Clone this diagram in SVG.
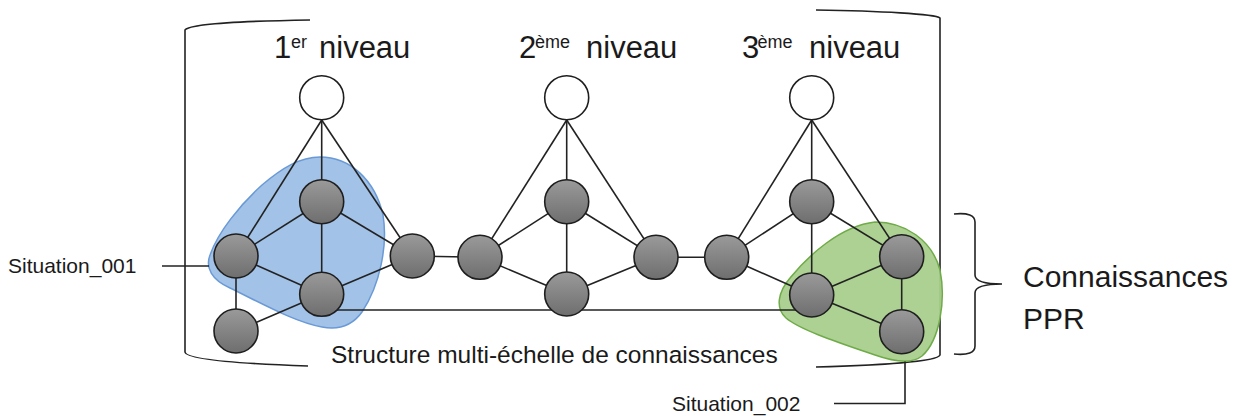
<svg xmlns="http://www.w3.org/2000/svg" width="1239" height="416" viewBox="0 0 1239 416">
<style>
text{font-family:"Liberation Sans",Arial,sans-serif;fill:#1a1a1a}
.t{font-size:31px}
.sup{font-size:18px}
.lbl{font-size:21px}
.big{font-size:30px}
.cap{font-size:24.5px}
.e{stroke:#222;stroke-width:1.6;fill:none}
.br{stroke:#222;stroke-width:1.6;fill:none}
.n{fill:url(#g);stroke:#1e1e1e;stroke-width:1.6}
.w{fill:#fff;stroke:#1e1e1e;stroke-width:1.6}
</style>
<defs>
<linearGradient id="g" x1="0" y1="0" x2="0" y2="1">
<stop offset="0" stop-color="#9a9a9a"/>
<stop offset="1" stop-color="#6e6e6e"/>
</linearGradient>
</defs>
<rect width="1239" height="416" fill="#fff"/>
<g id="brackets">
<path class="br" d="M310,20 C250,21 190,23 185,30 V352 C186,360 250,364 308,366"/>
<path class="br" d="M816,10 C880,11 935,14 940,18 V355 C937,362 880,365 816,367"/>
<path class="br" d="M954,214 Q975,212 975,222 V275 Q975,284 1002,284 Q975,284 975,293 V346 Q975,356 954,354"/>
</g>
<g id="blob-situation-001">
<path d="M320,157 C350,157 375,180 383,215 C388,245 380,285 362,312 C352,326 338,330 322,327 C295,322 265,305 230,288 C212,280 205,268 210,255 C218,232 240,205 262,185 C282,168 300,157 320,157 Z" fill="#9dbfe6" fill-opacity="0.95" stroke="#6a9ad6" stroke-width="1.5"/>
</g>
<g id="blob-situation-002">
<path d="M875,222 C905,222 932,240 940,270 C946,300 940,340 922,356 C912,364 895,362 875,355 C840,343 800,330 786,318 C775,308 778,292 790,278 C808,256 840,226 875,222 Z" fill="#a8cf8c" fill-opacity="0.95" stroke="#6fab48" stroke-width="1.5"/>
</g>
<g id="connectors">
<line class="e" x1="321.7" y1="120" x2="236" y2="256"/>
<line class="e" x1="321.7" y1="120" x2="321.7" y2="201.7"/>
<line class="e" x1="321.7" y1="120" x2="412.3" y2="256"/>
<line class="e" x1="321.7" y1="201.7" x2="236" y2="256"/>
<line class="e" x1="321.7" y1="201.7" x2="321.7" y2="294.3"/>
<line class="e" x1="321.7" y1="201.7" x2="412.3" y2="256"/>
<line class="e" x1="236" y1="256" x2="321.7" y2="294.3"/>
<line class="e" x1="236" y1="256" x2="236" y2="331"/>
<line class="e" x1="236" y1="331" x2="321.7" y2="294.3"/>
<line class="e" x1="321.7" y1="294.3" x2="412.3" y2="256"/>
<line class="e" x1="412.3" y1="256" x2="480" y2="257.3"/>
<line class="e" x1="566.7" y1="120" x2="480" y2="257.3"/>
<line class="e" x1="566.7" y1="120" x2="566.7" y2="201.7"/>
<line class="e" x1="566.7" y1="120" x2="656" y2="257.3"/>
<line class="e" x1="480" y1="257.3" x2="566.7" y2="201.7"/>
<line class="e" x1="480" y1="257.3" x2="566.7" y2="294"/>
<line class="e" x1="566.7" y1="201.7" x2="566.7" y2="294"/>
<line class="e" x1="566.7" y1="201.7" x2="656" y2="257.3"/>
<line class="e" x1="566.7" y1="294" x2="656" y2="257.3"/>
<line class="e" x1="656" y1="257.3" x2="726.7" y2="257.3"/>
<line class="e" x1="811.7" y1="120" x2="726.7" y2="257.3"/>
<line class="e" x1="811.7" y1="120" x2="811.7" y2="201.7"/>
<line class="e" x1="811.7" y1="120" x2="901.7" y2="256.7"/>
<line class="e" x1="726.7" y1="257.3" x2="811.7" y2="201.7"/>
<line class="e" x1="726.7" y1="257.3" x2="811.7" y2="295"/>
<line class="e" x1="811.7" y1="201.7" x2="811.7" y2="295"/>
<line class="e" x1="811.7" y1="201.7" x2="901.7" y2="256.7"/>
<line class="e" x1="811.7" y1="295" x2="901.7" y2="256.7"/>
<line class="e" x1="811.7" y1="295" x2="901.7" y2="331.7"/>
<line class="e" x1="901.7" y1="256.7" x2="901.7" y2="331.7"/>
<line class="e" x1="330" y1="310" x2="800" y2="310"/>
<polyline class="e" points="162,266 209,266"/>
<polyline class="e" points="834,403.5 905,403.5 905,361.5"/>
</g>
<g id="n-top1"><circle class="w" cx="321.7" cy="97.7" r="22"/></g>
<g id="n-top2"><circle class="w" cx="566.7" cy="97.7" r="22"/></g>
<g id="n-top3"><circle class="w" cx="811.7" cy="97.7" r="22"/></g>
<g id="n-a1"><circle class="n" cx="321.7" cy="201.7" r="22"/></g>
<g id="n-a2"><circle class="n" cx="236" cy="256" r="22"/></g>
<g id="n-a3"><circle class="n" cx="321.7" cy="294.3" r="22"/></g>
<g id="n-a4"><circle class="n" cx="236" cy="331" r="22"/></g>
<g id="n-a5"><circle class="n" cx="412.3" cy="256" r="22"/></g>
<g id="n-b1"><circle class="n" cx="480" cy="257.3" r="22"/></g>
<g id="n-b2"><circle class="n" cx="566.7" cy="201.7" r="22"/></g>
<g id="n-b3"><circle class="n" cx="566.7" cy="294" r="22"/></g>
<g id="n-b4"><circle class="n" cx="656" cy="257.3" r="22"/></g>
<g id="n-c1"><circle class="n" cx="726.7" cy="257.3" r="22"/></g>
<g id="n-c2"><circle class="n" cx="811.7" cy="201.7" r="22"/></g>
<g id="n-c3"><circle class="n" cx="811.7" cy="295" r="22"/></g>
<g id="n-c4"><circle class="n" cx="901.7" cy="256.7" r="22"/></g>
<g id="n-c5"><circle class="n" cx="901.7" cy="331.7" r="22"/></g>
<g id="labels">
<text class="t" x="274" y="57.5">1</text><text class="sup" x="291" y="47.5">er</text><text class="t" x="319" y="57.5">niveau</text>
<text class="t" x="519" y="57.5">2</text><text class="sup" x="535" y="47.5">ème</text><text class="t" x="586" y="57.5">niveau</text>
<text class="t" x="742" y="57.5">3</text><text class="sup" x="757.5" y="47.5">ème</text><text class="t" x="809" y="57.5">niveau</text>
<text class="lbl" x="8" y="273">Situation_001</text>
<text class="lbl" x="672" y="411">Situation_002</text>
<text class="cap" x="331" y="362.5">Structure multi-échelle de connaissances</text>
<text class="big" x="1023" y="286.5">Connaissances</text>
<text class="big" x="1023" y="328.5">PPR</text>
</g>
</svg>
